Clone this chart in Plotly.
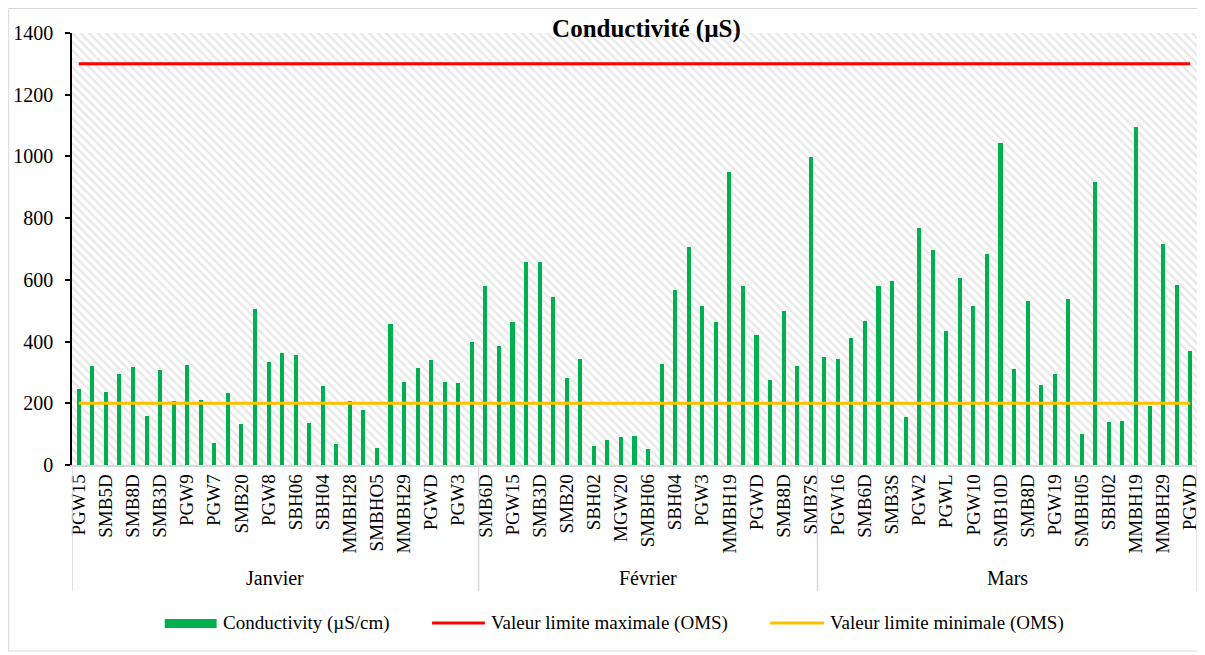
import plotly.graph_objects as go

months = ["Janvier", "Février", "Mars"]

# conductivité (µS/cm) par forage, dans l'ordre de l'axe
janvier = [245, 322, 238, 295, 317, 158, 308, 206, 324, 211, 70, 233, 132, 505, 335,
           363, 355, 136, 255, 68, 208, 178, 55, 457, 269, 314, 340, 269, 266, 399]
fevrier = [580, 386, 465, 659, 659, 543, 283, 342, 63, 81, 90, 94, 51, 327, 567,
           707, 515, 463, 950, 581, 421, 275, 498, 321, 997]
mars = [349, 342, 411, 468, 579, 596, 155, 768, 697, 434, 605, 515, 685, 1042, 310,
        532, 259, 295, 538, 99, 917, 139, 143, 1095, 191, 717, 583, 369]

# libellés visibles (une catégorie sur deux)
labels_janvier = ["PGW15", "SMB5D", "SMB8D", "SMB3D", "PGW9", "PGW7", "SMB20", "PGW8",
                  "SBH06", "SBH04", "MMBH28", "SMBHO5", "MMBH29", "PGWD", "PGW3"]
labels_fevrier = ["SMB6D", "PGW15", "SMB3D", "SMB20", "SBH02", "MGW20", "SMBH06",
                  "SBH04", "PGW3", "MMBH19", "PGWD", "SMB8D", "SMB7S"]
labels_mars = ["PGW16", "SMB6D", "SMB3S", "PGW2", "PGWL", "PGW10", "SMB10D", "SMB8D",
               "PGW19", "SMBH05", "SBH02", "MMBH19", "MMBH29", "PGWD"]

limite_max = 1300
limite_min = 200
y_max = 1400

FONT = "Liberation Serif, Times New Roman, serif"
OFF = 8  # marge par défaut de la page autour du graphique
W, H = 1205 - OFF, 655 - OFF
# bords de la zone de tracé, en pixels de la fenêtre
X0, X1, Y0, Y1 = 72, 1200, 33, 465
L, R, T, B = X0 - OFF, W - (X1 - OFF), Y0 - OFF, H - (Y1 - OFF)
PW, PH = X1 - X0, Y1 - Y0


def px_x(p):
    return (p - X0) / PW


def px_y(p):
    return (Y1 - p) / PH


values = janvier + fevrier + mars
n = len(values)
xs = list(range(n))
groups = [janvier, fevrier, mars]
ticktext = labels_janvier + labels_fevrier + labels_mars

fig = go.Figure()

# fond hachuré de la zone de tracé
fig.add_trace(go.Bar(
    x=[(n - 1) / 2], y=[y_max], width=[n],
    marker=dict(color="white", line=dict(width=0),
                pattern=dict(shape="\\", fgcolor="#d0d0d0", bgcolor="white",
                             size=6, solidity=0.4)),
    hoverinfo="skip", showlegend=False,
))

fig.add_trace(go.Bar(
    x=xs, y=values, width=0.3, marker=dict(color="#00B050", line=dict(width=0)),
    name="Conductivity (µS/cm)", showlegend=False,
))
fig.add_trace(go.Scatter(
    x=xs, y=[limite_max] * n, mode="lines", line=dict(color="#FF0000", width=3),
    name="Valeur limite maximale (OMS)", showlegend=False,
))
fig.add_trace(go.Scatter(
    x=xs, y=[limite_min] * n, mode="lines", line=dict(color="#FFC000", width=3),
    name="Valeur limite minimale (OMS)", showlegend=False,
))

shapes = []
annotations = []

# séparateurs de mois et libellés
start = 0
bounds = [-0.5]
for m, g in zip(months, groups):
    annotations.append(dict(x=start + (len(g) - 1) / 2, y=px_y(578), xref="x", yref="paper",
                            text=m, showarrow=False, yanchor="middle",
                            font=dict(family=FONT, size=20, color="black")))
    start += len(g)
    bounds.append(start - 0.5)
for b in bounds:
    shapes.append(dict(type="line", xref="x", yref="paper", x0=b, x1=b, y0=0, y1=px_y(591),
                       line=dict(color="#d9d9d9", width=1.5)))

# légende
leg_y = 623
shapes.append(dict(type="rect", xref="paper", yref="paper", x0=px_x(165), x1=px_x(217),
                   y0=px_y(628), y1=px_y(619), fillcolor="#00B050", line=dict(width=0)))
shapes.append(dict(type="line", xref="paper", yref="paper", x0=px_x(433), x1=px_x(486),
                   y0=px_y(leg_y), y1=px_y(leg_y), line=dict(color="#FF0000", width=3)))
shapes.append(dict(type="line", xref="paper", yref="paper", x0=px_x(772), x1=px_x(826),
                   y0=px_y(leg_y), y1=px_y(leg_y), line=dict(color="#FFC000", width=3)))
for xt, txt in [(221, "Conductivity (µS/cm)"), (490, "Valeur limite maximale (OMS)"),
                (830, "Valeur limite minimale (OMS)")]:
    annotations.append(dict(x=px_x(xt), y=px_y(leg_y), xref="paper", yref="paper", text=txt,
                            xanchor="left", yanchor="middle", showarrow=False,
                            font=dict(family=FONT, size=19, color="black")))

# cadre du graphique
shapes.append(dict(type="rect", xref="paper", yref="paper", x0=px_x(OFF + 0.5), x1=px_x(1203),
                   y0=px_y(651), y1=px_y(OFF + 0.5), line=dict(color="#d9d9d9", width=1),
                   fillcolor="rgba(0,0,0,0)", layer="below"))

fig.update_layout(
    width=W, height=H,
    margin=dict(l=L, r=R, t=T, b=B, pad=0),
    paper_bgcolor="white", plot_bgcolor="white",
    barmode="overlay", bargap=0,
    showlegend=False,
    title=dict(text="Conductivité (µS)", x=px_x(648), xanchor="center", xref="paper",
               y=1 - (28 - OFF) / H, yanchor="middle", yref="container",
               font=dict(family=FONT, size=25, color="black", weight="bold")),
    xaxis=dict(range=[-0.5, n - 0.5], tickvals=xs[::2], ticktext=ticktext, tickangle=-90,
               showgrid=False, zeroline=False, showline=True, linecolor="#d9d9d9", linewidth=1.5,
               ticks="", tickfont=dict(family=FONT, size=19, color="black")),
    yaxis=dict(range=[0, y_max], tickvals=list(range(0, y_max + 1, 200)), showgrid=False,
               zeroline=False, showline=True, linecolor="black", linewidth=1.5,
               ticks="outside", ticklen=5, tickcolor="black", tickwidth=1.5,
               ticklabelstandoff=8, tickfont=dict(family=FONT, size=20, color="black")),
    shapes=shapes, annotations=annotations,
)

fig.write_html("out.html")
